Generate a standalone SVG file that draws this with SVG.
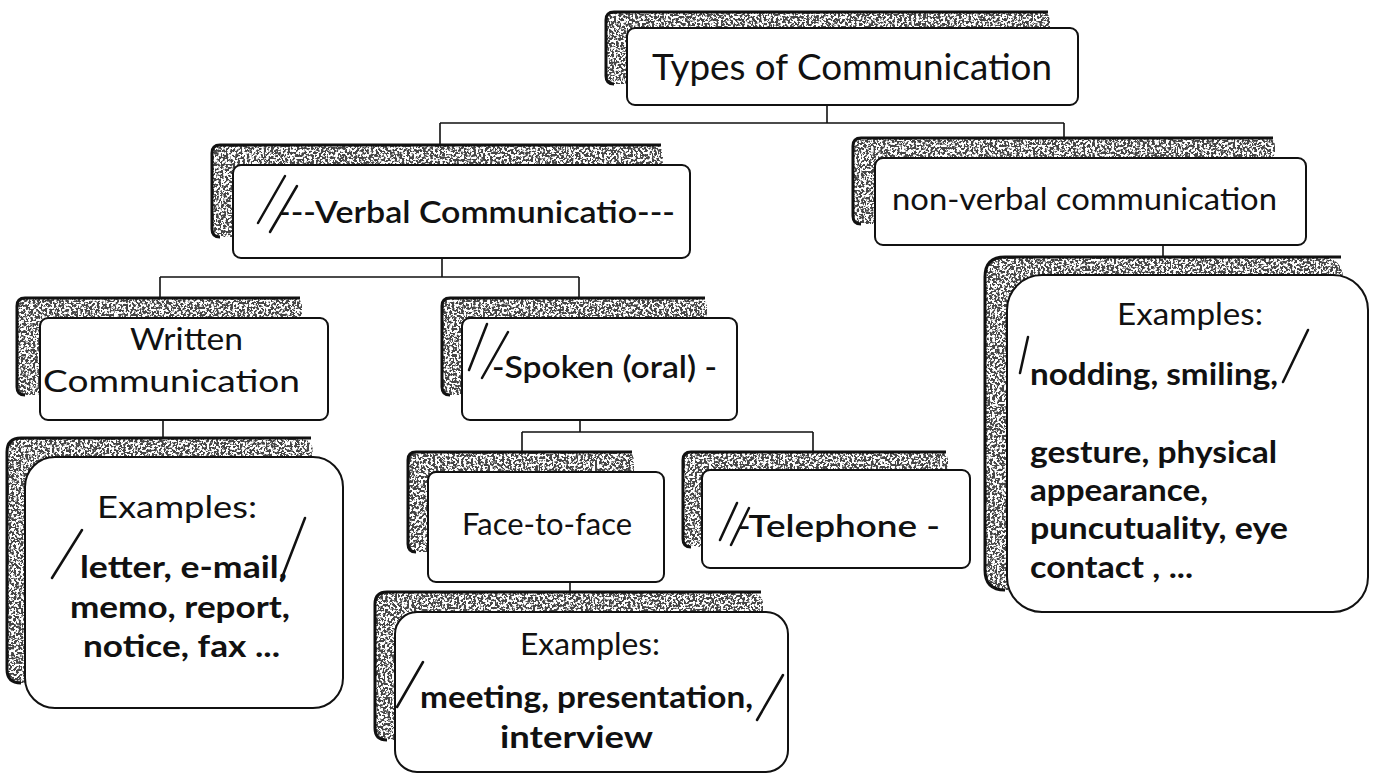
<svg xmlns="http://www.w3.org/2000/svg" width="1373" height="774" viewBox="0 0 1373 774">
<defs>
<filter id="speck" x="0" y="0" width="1" height="1">
 <feTurbulence type="fractalNoise" baseFrequency="0.42" numOctaves="2" seed="4" result="t"/>
 <feColorMatrix in="t" type="matrix" values="0 0 0 0 0.06  0 0 0 0 0.06  0 0 0 0 0.06  11 0 0 0 -5.0" result="m"/>
 <feComposite in="m" in2="SourceAlpha" operator="in"/>
</filter>
</defs>
<style>
 .sh{fill:#000;filter:url(#speck)}
 .sho{fill:none;stroke:#111;stroke-width:3}
 .box{fill:#fff;stroke:#111;stroke-width:2}
 .t{font-family:Lato,"Liberation Sans",sans-serif;fill:#111}
 .n{font-size:30px}
 .m{font-size:31px;font-weight:600}
 .b{font-size:30px;font-weight:bold}
 .sl{stroke:#111;stroke-width:2.5;stroke-linecap:round;fill:none}
 .cn{fill:none;stroke:#111;stroke-width:1.6}
</style>
<rect width="1373" height="774" fill="#fff"/>

<g id="connectors">
 <path class="cn" d="M827,105 V123 M440,123 H1064 M440,123 V145 M1064,123 V138"/>
 <path class="cn" d="M442,258 V277 M160,277 H579 M160,277 V298 M579,277 V298"/>
 <path class="cn" d="M1163,245 V257"/>
 <path class="cn" d="M163,420 V438"/>
 <path class="cn" d="M580,420 V432 M522,432 H813 M522,432 V452 M813,432 V452"/>
 <path class="cn" d="M570,582 V592"/>
</g>

<g id="node-types">
 <rect class="sh" x="606" y="12" width="444" height="72" rx="8"/>
 <path class="sho" d="M614,84 Q606,84 606,76 V20 Q606,12 614,12 H1048"/>
 <rect class="box" x="627" y="28" width="451" height="77" rx="8"/>
 <text class="t" x="652" y="80" font-size="36" textLength="400" lengthAdjust="spacingAndGlyphs">Types of Communication</text>
</g>

<g id="node-verbal">
 <rect class="sh" x="212" y="145" width="451" height="92" rx="8"/>
 <path class="sho" d="M220,237 Q212,237 212,229 V153 Q212,145 220,145 H661"/>
 <rect class="box" x="233" y="165" width="457" height="93" rx="8"/>
 <text class="t m" x="278" y="223" textLength="397" lengthAdjust="spacingAndGlyphs">---Verbal Communicatio---</text>
 <path class="sl" d="M285,176 L258,223 M297,186 L270,232"/>
</g>

<g id="node-nonverbal">
 <rect class="sh" x="853" y="138" width="422" height="86" rx="8"/>
 <path class="sho" d="M861,224 Q853,224 853,216 V146 Q853,138 861,138 H1273"/>
 <rect class="box" x="875" y="158" width="431" height="87" rx="8"/>
 <text class="t n" x="892" y="210" textLength="385" lengthAdjust="spacingAndGlyphs">non-verbal communication</text>
</g>

<g id="node-written">
 <rect class="sh" x="17" y="298" width="285" height="97" rx="8"/>
 <path class="sho" d="M25,395 Q17,395 17,387 V306 Q17,298 25,298 H300"/>
 <rect class="box" x="40" y="318" width="288" height="102" rx="8"/>
 <text class="t n" x="130" y="350" textLength="113" lengthAdjust="spacingAndGlyphs">Written</text>
 <text class="t n" x="43" y="392" textLength="257" lengthAdjust="spacingAndGlyphs">Communication</text>
</g>

<g id="node-spoken">
 <rect class="sh" x="442" y="298" width="265" height="97" rx="8"/>
 <path class="sho" d="M450,395 Q442,395 442,387 V306 Q442,298 450,298 H705"/>
 <rect class="box" x="462" y="318" width="275" height="102" rx="8"/>
 <text class="t m" x="492" y="378" font-size="32" textLength="225" lengthAdjust="spacingAndGlyphs">-Spoken (oral) -</text>
 <path class="sl" d="M487,324 L469,370 M508,332 L482,378"/>
</g>

<g id="node-written-examples">
 <rect class="sh" x="7" y="438" width="306" height="245" rx="14"/>
 <path class="sho" d="M21,683 Q7,683 7,669 V452 Q7,438 21,438 H311"/>
 <rect class="box" x="25" y="457" width="318" height="251" rx="30"/>
 <text class="t n" x="97" y="518" textLength="160" lengthAdjust="spacingAndGlyphs">Examples:</text>
 <text class="t b" x="80" y="578" textLength="207" lengthAdjust="spacingAndGlyphs">letter, e-mail,</text>
 <text class="t b" x="70" y="618" textLength="220" lengthAdjust="spacingAndGlyphs">memo, report,</text>
 <text class="t b" x="83" y="657" textLength="197" lengthAdjust="spacingAndGlyphs">notice, fax ...</text>
 <path class="sl" d="M82,530 L52,578 M305,518 L281,580"/>
</g>

<g id="node-face">
 <rect class="sh" x="408" y="452" width="226" height="100" rx="8"/>
 <path class="sho" d="M416,552 Q408,552 408,544 V460 Q408,452 416,452 H632"/>
 <rect class="box" x="428" y="472" width="236" height="110" rx="8"/>
 <text class="t n" x="462" y="535" textLength="170" lengthAdjust="spacingAndGlyphs">Face-to-face</text>
</g>

<g id="node-telephone">
 <rect class="sh" x="683" y="452" width="265" height="95" rx="8"/>
 <path class="sho" d="M691,547 Q683,547 683,539 V460 Q683,452 691,452 H946"/>
 <rect class="box" x="702" y="470" width="268" height="98" rx="8"/>
 <text class="t m" x="737" y="537" textLength="203" lengthAdjust="spacingAndGlyphs">-Telephone -</text>
 <path class="sl" d="M737,503 L720,540 M749,508 L731,545"/>
</g>

<g id="node-face-examples">
 <rect class="sh" x="375" y="592" width="388" height="148" rx="12"/>
 <path class="sho" d="M387,740 Q375,740 375,728 V604 Q375,592 387,592 H761"/>
 <rect class="box" x="395" y="612" width="393" height="160" rx="22"/>
 <text class="t n" x="520" y="655" textLength="140" lengthAdjust="spacingAndGlyphs">Examples:</text>
 <text class="t b" x="420" y="708" textLength="333" lengthAdjust="spacingAndGlyphs">meeting, presentation,</text>
 <text class="t b" x="500" y="748" textLength="153" lengthAdjust="spacingAndGlyphs">interview</text>
 <path class="sl" d="M423,662 L397,707 M783,675 L757,720"/>
</g>

<g id="node-nonverbal-examples">
 <rect class="sh" x="985" y="257" width="358" height="333" rx="20"/>
 <path class="sho" d="M1005,590 Q985,590 985,570 V277 Q985,257 1005,257 H1341"/>
 <rect class="box" x="1007" y="275" width="361" height="337" rx="35"/>
 <text class="t n" x="1117" y="325" textLength="146" lengthAdjust="spacingAndGlyphs">Examples:</text>
 <text class="t b" x="1030" y="385" textLength="248" lengthAdjust="spacingAndGlyphs">nodding, smiling,</text>
 <text class="t b" x="1030" y="463" textLength="247" lengthAdjust="spacingAndGlyphs">gesture, physical</text>
 <text class="t b" x="1030" y="501" textLength="178" lengthAdjust="spacingAndGlyphs">appearance,</text>
 <text class="t b" x="1030" y="539" textLength="258" lengthAdjust="spacingAndGlyphs">puncutuality, eye</text>
 <text class="t b" x="1030" y="578" textLength="163" lengthAdjust="spacingAndGlyphs">contact , ...</text>
 <path class="sl" d="M1028,337 L1020,373 M1308,330 L1283,382"/>
</g>
</svg>
